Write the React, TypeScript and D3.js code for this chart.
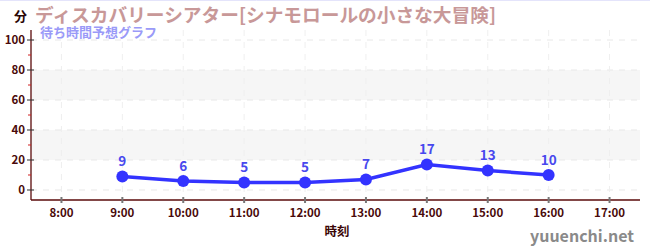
import React from "react";
import * as d3 from "d3";

const hours = [9, 10, 11, 12, 13, 14, 15, 16];
const waits = [9, 6, 5, 5, 7, 17, 13, 10];
const xTicks = [8, 9, 10, 11, 12, 13, 14, 15, 16, 17];
const yTicks = [0, 20, 40, 60, 80, 100];
const yMinor = [10, 30, 50, 70, 90];
const bands = [[20, 40], [60, 80]];
const title = "ディスカバリーシアター[シナモロールの小さな大冒険]";
const subtitle = "待ち時間予想グラフ";

const W = 650, H = 250;
const left = 31, right = 640, top = 30, bottom = 200;
const font = "'Noto Sans CJK JP', 'Noto Sans', sans-serif";

export default function App() {
  const x = d3.scaleLinear().domain([7.5, 17.5]).range([left, right]);
  const y = d3.scaleLinear().domain([-6.67, 106.67]).range([bottom, top]);
  const line = d3.line<number>().x((_, i) => x(hours[i])).y((d) => y(d));
  const tickColor = "#4a0a0a";
  return (
    <svg width={W} height={H} style={{ position: "absolute", left: 0, top: 0, fontFamily: font }}>
      <rect x={0} y={0} width={W} height={H} fill="#fff" />
      <line x1={0} x2={W} y1={0.5} y2={0.5} stroke="#e4e4fb" strokeWidth={1} />
      {bands.map(([a, b], i) => (
        <rect key={i} x={left} width={right - left} y={y(b)} height={y(a) - y(b)} fill="#f6f6f6" />
      ))}
      {yTicks.map((t) => (
        <line key={t} x1={left} x2={right} y1={y(t)} y2={y(t)} stroke="#e8e8e8" strokeDasharray="6,6" />
      ))}
      {xTicks.map((t) => (
        <line key={t} x1={x(t)} x2={x(t)} y1={top} y2={bottom} stroke="#efefef" strokeDasharray="6,6" />
      ))}
      <line x1={left} x2={left} y1={top} y2={bottom} stroke="#5a0a0a" strokeWidth={1.3} />
      <line x1={left} x2={right} y1={bottom} y2={bottom} stroke="#5a0a0a" strokeWidth={1.3} />
      {yTicks.map((t) => (
        <g key={t}>
          <line x1={left - 4} x2={left + 3} y1={y(t)} y2={y(t)} stroke="#333" />
          <text x={left - 6} y={y(t)} dy="0.35em" textAnchor="end" fontSize={11.5} fontWeight="bold" fill={tickColor}>
            {t}
          </text>
        </g>
      ))}
      {yMinor.map((t) => (
        <line key={t} x1={left - 3} x2={left} y1={y(t)} y2={y(t)} stroke="#d02020" />
      ))}
      {xTicks.map((t) => (
        <g key={t}>
          <line x1={x(t)} x2={x(t)} y1={bottom - 3} y2={bottom + 3} stroke="#777" strokeWidth={2} />
          <text x={x(t)} y={bottom + 17} textAnchor="middle" fontSize={11.5} fontWeight="bold" fill={tickColor}>
            {`${t}:00`}
          </text>
        </g>
      ))}
      <path d={line(waits) || ""} fill="none" stroke="#3333ff" strokeWidth={3.5} />
      {waits.map((v, i) => (
        <g key={i}>
          <circle cx={x(hours[i])} cy={y(v)} r={6} fill="#3333ff" />
          <text x={x(hours[i])} y={y(v) - 10} textAnchor="middle" fontSize={13.5} fontWeight="bold" fill="#4848ee">
            {v}
          </text>
        </g>
      ))}
      <text x={14} y={21} fontSize={13} fontWeight="bold" fill="#2a0505">分</text>
      <text x={35} y={21.5} fontSize={18.7} fontWeight="bold" fill="#c89898">{title}</text>
      <text x={40} y={37} fontSize={13} fontWeight="bold" fill="#9a9af8">{subtitle}</text>
      <text x={337} y={236} textAnchor="middle" fontSize={12.5} fontWeight="bold" fill="#3a0505">時刻</text>
      <text x={634} y={242} textAnchor="end" fontSize={16} fontWeight="bold" fill="#8a8a8a">yuuenchi.net</text>
    </svg>
  );
}
